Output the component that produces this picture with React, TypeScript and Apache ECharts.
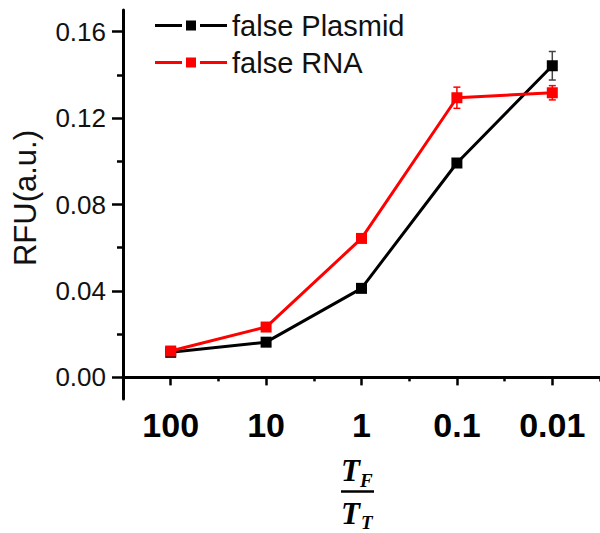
import React, { useEffect, useRef } from "react";
import * as echarts from "echarts";

const categories = ["100", "10", "1", "0.1", "0.01"];
const plasmidValues = [0.0116, 0.0163, 0.0412, 0.0992, 0.1442];
const plasmidErrors = [0.0005, 0.0008, 0.001, 0.001, 0.0066];
const rnaValues = [0.0122, 0.0233, 0.0643, 0.1294, 0.1317];
const rnaErrors = [0.0008, 0.001, 0.001, 0.0049, 0.0033];
const yTickLabels = [0, 0.04, 0.08, 0.12, 0.16];
const yMinorTicks = [0.02, 0.06, 0.1, 0.14];
const seriesNames = ["false Plasmid", "false RNA"];

const SANS = 'Arial, "Liberation Sans", sans-serif';
const SERIF = '"Liberation Serif", "Times New Roman", serif';

function errorSeries(values: number[], errs: number[], color: string) {
  return {
    type: "custom",
    xAxisIndex: 0,
    yAxisIndex: 0,
    z: 1,
    silent: true,
    encode: { x: 0, y: [1, 2] },
    data: values.map((v, i) => [i, v - errs[i], v + errs[i]]),
    renderItem: (params: any, api: any) => {
      const x = api.value(0);
      const lo = api.coord([x, api.value(1)]);
      const hi = api.coord([x, api.value(2)]);
      const w = 3.5;
      const st = { stroke: color, lineWidth: 1.5 };
      return {
        type: "group",
        children: [
          { type: "line", shape: { x1: lo[0], y1: lo[1], x2: hi[0], y2: hi[1] }, style: st },
          { type: "line", shape: { x1: lo[0] - w, y1: lo[1], x2: lo[0] + w, y2: lo[1] }, style: st },
          { type: "line", shape: { x1: hi[0] - w, y1: hi[1], x2: hi[0] + w, y2: hi[1] }, style: st },
        ],
      };
    },
  };
}

export default function App() {
  const ref = useRef<HTMLDivElement>(null);
  useEffect(() => {
    document.body.style.margin = "0";
    const chart = echarts.init(ref.current!, undefined, { renderer: "svg" });
    const legendIcon = "path://M0,3.5h27v3H0z M31,0h10v10H31z M45,3.5h27v3H45z";
    chart.setOption({
      animation: false,
      backgroundColor: "#fff",
      grid: { left: 123, top: 10, right: -5, bottom: 134, containLabel: false },
      legend: {
        orient: "vertical",
        left: 150,
        top: 6,
        itemWidth: 72,
        itemHeight: 10,
        itemGap: 8,
        icon: legendIcon,
        data: seriesNames,
        textStyle: { fontFamily: SANS, fontSize: 29, color: "#111" },
      },
      xAxis: [
        {
          type: "category",
          data: categories,
          position: "bottom",
          boundaryGap: true,
          axisLine: { show: true, lineStyle: { color: "#000", width: 3 } },
          axisTick: { show: true, alignWithLabel: true, length: 8, lineStyle: { color: "#000", width: 2.5 } },
          axisLabel: { margin: 9, fontFamily: SANS, fontSize: 34, fontWeight: "bold", color: "#000" },
          splitLine: { show: false },
        },
        {
          type: "category",
          data: categories,
          position: "bottom",
          boundaryGap: true,
          axisLine: { show: false },
          axisTick: { show: true, length: 4, lineStyle: { color: "#000", width: 2.5 } },
          axisLabel: { show: false },
          splitLine: { show: false },
        },
      ],
      yAxis: [
        {
          type: "value",
          min: -0.01,
          max: 0.17,
          position: "left",
          axisLine: { show: true, lineStyle: { color: "#000", width: 3 } },
          axisTick: { show: true, length: 11, customValues: yTickLabels, lineStyle: { color: "#000", width: 2.5 } },
          axisLabel: {
            customValues: yTickLabels,
            margin: 17,
            fontFamily: SANS,
            fontSize: 26,
            color: "#111",
            formatter: (v: number) => v.toFixed(2),
          },
          splitLine: { show: false },
        },
        {
          type: "value",
          min: -0.01,
          max: 0.17,
          position: "left",
          axisLine: { show: false },
          axisTick: { show: true, length: 6, customValues: yMinorTicks, lineStyle: { color: "#000", width: 2.5 } },
          axisLabel: { show: false, customValues: yMinorTicks },
          splitLine: { show: false },
        },
      ],
      series: [
        errorSeries(plasmidValues, plasmidErrors, "#444"),
        errorSeries(rnaValues, rnaErrors, "#ff0000"),
        {
          name: seriesNames[0],
          type: "line",
          xAxisIndex: 0,
          yAxisIndex: 0,
          z: 2,
          data: plasmidValues,
          color: "#000",
          symbol: "rect",
          symbolSize: 11,
          lineStyle: { width: 3, color: "#000" },
          itemStyle: { color: "#000" },
        },
        {
          name: seriesNames[1],
          type: "line",
          xAxisIndex: 0,
          yAxisIndex: 0,
          z: 3,
          data: rnaValues,
          color: "#ff0000",
          symbol: "rect",
          symbolSize: 11,
          lineStyle: { width: 3, color: "#ff0000" },
          itemStyle: { color: "#ff0000" },
        },
      ],
      graphic: [
        {
          type: "text",
          x: 25,
          y: 198,
          rotation: Math.PI / 2,
          style: {
            text: "RFU(a.u.)",
            fontFamily: SANS,
            fontSize: 31,
            fill: "#111",
            align: "center",
            verticalAlign: "middle",
          },
        },
        {
          type: "text",
          x: 341,
          y: 470,
          style: { text: "T", fontFamily: SERIF, fontSize: 31, fontStyle: "italic", fontWeight: "bold", fill: "#000", align: "left", verticalAlign: "middle" },
        },
        {
          type: "text",
          x: 360,
          y: 480,
          style: { text: "F", fontFamily: SERIF, fontSize: 19, fontStyle: "italic", fontWeight: "bold", fill: "#000", align: "left", verticalAlign: "middle" },
        },
        {
          type: "line",
          shape: { x1: 341, y1: 491.5, x2: 374, y2: 491.5 },
          style: { stroke: "#000", lineWidth: 2.5 },
        },
        {
          type: "text",
          x: 341,
          y: 513.5,
          style: { text: "T", fontFamily: SERIF, fontSize: 31, fontStyle: "italic", fontWeight: "bold", fill: "#000", align: "left", verticalAlign: "middle" },
        },
        {
          type: "text",
          x: 361,
          y: 522,
          style: { text: "T", fontFamily: SERIF, fontSize: 19, fontStyle: "italic", fontWeight: "bold", fill: "#000", align: "left", verticalAlign: "middle" },
        },
      ],
    });
    return () => chart.dispose();
  }, []);
  return <div ref={ref} style={{ width: 600, height: 533, position: "absolute", left: 0, top: 0 }} />;
}
